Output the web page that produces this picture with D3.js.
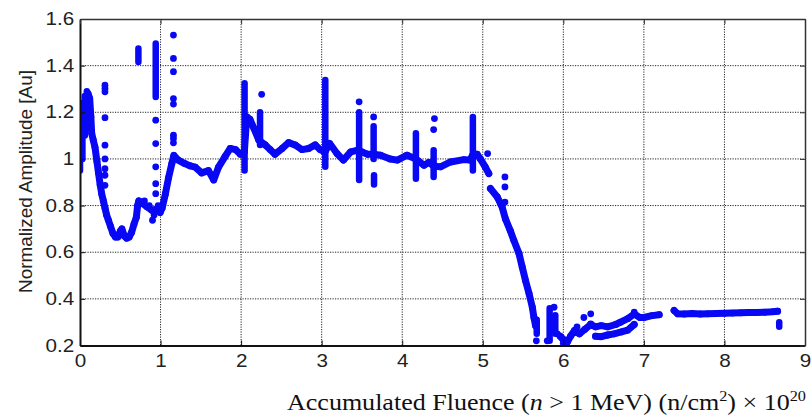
<!DOCTYPE html>
<html>
<head>
<meta charset="utf-8">
<script src="https://cdn.jsdelivr.net/npm/d3@7"></script>
<style>
  body { margin: 0; background: #fff; }
  svg { display: block; }
</style>
</head>
<body>
<div id="chart"></div>
<script>
// tick values
let xTicks = [0, 1, 2, 3, 4, 5, 6, 7, 8, 9];
let yTicks = [0.2, 0.4, 0.6, 0.8, 1.0, 1.2, 1.4, 1.6];

let mainTrace = [[0.10,1.28],[0.12,1.26],[0.135,1.18],[0.145,1.11],[0.165,1.08],[0.186,1.05],[0.21,0.99],[0.23,0.94],[0.25,0.89],[0.27,0.85],[0.29,0.82],[0.31,0.79],[0.33,0.76],[0.35,0.74],[0.38,0.71],[0.41,0.68],[0.44,0.665],[0.47,0.665],[0.5,0.69],[0.52,0.70],[0.55,0.67],[0.58,0.66],[0.61,0.665],[0.64,0.685],[0.67,0.72],[0.7,0.75],[0.715,0.80],[0.73,0.82],[0.77,0.81],[0.83,0.795],[0.89,0.78],[0.95,0.785],[0.995,0.77],[1.02,0.79],[1.06,0.85],[1.1,0.92],[1.14,0.98],[1.165,1.015],[1.22,0.995],[1.3,0.98],[1.37,0.97],[1.43,0.965],[1.51,0.94],[1.595,0.95],[1.66,0.91],[1.72,0.965],[1.8,1.01],[1.865,1.045],[1.93,1.04],[1.99,1.02],[2.04,1.03],[2.07,1.18],[2.11,1.17],[2.16,1.13],[2.22,1.08],[2.3,1.06],[2.36,1.04],[2.42,1.02],[2.51,1.045],[2.59,1.07],[2.67,1.06],[2.755,1.04],[2.84,1.045],[2.92,1.06],[2.98,1.04],[3.04,1.03],[3.1,1.066],[3.19,1.023],[3.27,0.995],[3.36,1.03],[3.44,1.037],[3.5,1.03],[3.57,1.02],[3.645,1.02],[3.73,1.016],[3.85,1.0],[3.94,0.995],[4.06,1.016],[4.17,1.0],[4.27,0.973],[4.33,0.985],[4.39,0.97],[4.475,0.966],[4.6,0.987],[4.765,0.997],[4.84,0.995],[4.88,1.02],[4.93,1.02],[4.97,1.0],[5.03,0.966],[5.075,0.937]];
let dropTrace = [[5.095,0.873],[5.18,0.837],[5.24,0.794],[5.28,0.744],[5.34,0.694],[5.385,0.651],[5.45,0.594],[5.49,0.536],[5.53,0.479],[5.575,0.422],[5.615,0.364],[5.635,0.32],[5.655,0.285]];
let tailTrace = [[5.96,0.24],[6.0,0.225],[6.05,0.215],[6.09,0.24],[6.14,0.265],[6.2,0.25],[6.27,0.27],[6.34,0.29],[6.4,0.28],[6.47,0.285],[6.55,0.28],[6.65,0.29],[6.71,0.30],[6.8,0.315],[6.88,0.335],[6.95,0.32],[7.0,0.32],[7.1,0.328],[7.19,0.332]];
let lowBand = [[6.4,0.24],[6.47,0.238],[6.55,0.245],[6.63,0.25],[6.72,0.258],[6.8,0.266],[6.88,0.29]];
let endTrace = [[7.375,0.35],[7.42,0.336],[7.5,0.335],[7.6,0.337],[7.7,0.335],[7.79,0.336],[7.9,0.337],[8.0,0.338],[8.1,0.339],[8.2,0.34],[8.3,0.341],[8.4,0.342],[8.5,0.343],[8.6,0.345],[8.66,0.347]];

// dense vertical bursts [fluence, low, high]
let spikes = [[0.0,0.95,1.18],[0.03,1.0,1.24],[0.06,1.1,1.27],[0.085,1.15,1.29],[0.725,1.416,1.474],[0.94,1.266,1.495],[2.043,0.95,1.324],[2.235,1.06,1.2],[3.045,0.966,1.338],[3.465,0.91,1.2],[3.645,1.0,1.14],[3.65,0.89,0.93],[4.17,0.915,1.11],[4.39,0.923,1.037],[4.877,0.95,1.18],[5.83,0.22,0.36],[5.9,0.25,0.33],[5.67,0.25,0.31],[8.68,0.28,0.30]];

// single scattered samples
let dots = [[0.31,1.316],[0.31,1.302],[0.31,1.288],[0.31,1.177],[0.31,1.059],[0.31,1.0],[0.31,0.958],[0.31,0.93],[0.31,0.887],[0.94,1.166],[0.94,1.066],[0.94,0.966],[0.94,0.894],[0.94,0.851],[0.9,0.737],[0.8,0.82],[0.86,0.80],[0.92,0.76],[0.97,0.80],[1.16,1.531],[1.16,1.431],[1.16,1.374],[1.16,1.259],[1.16,1.235],[1.16,1.102],[1.16,1.088],[1.16,1.069],[2.255,1.277],[3.465,1.245],[3.645,1.18],[4.4,1.173],[4.39,1.126],[5.06,1.023],[5.275,0.923],[5.275,0.88],[5.275,0.815],[5.665,0.22],[5.8,0.22],[5.885,0.364],[5.925,0.25],[5.99,0.229],[6.0,0.21],[6.17,0.28],[6.255,0.32],[6.34,0.336],[6.34,0.293],[6.88,0.343]];

let w = 811, h = 416;
let margin = {left: 80, right: 6, top: 19, bottom: 70.5};
let dotColor = "#0808f4";

let svg = d3.select("#chart")
  .append("svg")
  .attr("width", w)
  .attr("height", h)
  .attr("viewBox", "0 0 " + w + " " + h);

let x = d3.scaleLinear().domain([0, 9]).range([margin.left, w - margin.right]);
let y = d3.scaleLinear().domain([0.2, 1.6]).range([h - margin.bottom, margin.top]);

// grid
let grid = svg.append("g")
  .attr("stroke", "#222")
  .attr("stroke-width", 1)
  .attr("stroke-dasharray", "1.2,1.3");
grid.selectAll(".vx").data(xTicks.slice(1, -1)).join("line")
  .attr("x1", d => x(d)).attr("x2", d => x(d))
  .attr("y1", y(1.6)).attr("y2", y(0.2));
grid.selectAll(".hy").data(yTicks.slice(1, -1)).join("line")
  .attr("x1", x(0)).attr("x2", x(9))
  .attr("y1", d => y(d)).attr("y2", d => y(d));

// data
svg.append("clipPath").attr("id", "plot-clip")
  .append("rect")
  .attr("x", x(0)).attr("y", y(1.6))
  .attr("width", x(9) - x(0)).attr("height", y(0.2) - y(1.6));

let dataGrp = svg.append("g").attr("clip-path", "url(#plot-clip)");
let line = d3.line().x(d => x(d[0])).y(d => y(d[1]));

let traces = [mainTrace, dropTrace, tailTrace, lowBand, endTrace];
dataGrp.selectAll("path.trace").data(traces).join("path")
  .attr("class", "trace")
  .attr("d", line)
  .attr("fill", "none")
  .attr("stroke", dotColor)
  .attr("stroke-width", 7)
  .attr("stroke-linecap", "round")
  .attr("stroke-linejoin", "round");

dataGrp.selectAll("line.spike").data(spikes).join("line")
  .attr("class", "spike")
  .attr("x1", d => x(d[0])).attr("x2", d => x(d[0]))
  .attr("y1", d => y(d[1])).attr("y2", d => y(d[2]))
  .attr("stroke", dotColor)
  .attr("stroke-width", 6.5)
  .attr("stroke-linecap", "round");

let allPts = traces.flat().concat(dots);
dataGrp.selectAll("circle").data(allPts).join("circle")
  .attr("cx", d => x(d[0]))
  .attr("cy", d => y(d[1]))
  .attr("r", 3.4)
  .attr("fill", dotColor);

// axes
let fmt = d => String(+d.toFixed(1));
let tickFont = "'Liberation Sans', Arial, sans-serif";

let xAxis = svg.append("g")
  .attr("transform", "translate(0," + y(0.2) + ")")
  .call(d3.axisBottom(x).tickValues(xTicks).tickFormat(d => d).tickSizeInner(-5).tickSizeOuter(0).tickPadding(9.5));
let yAxis = svg.append("g")
  .attr("transform", "translate(" + x(0) + ",0)")
  .call(d3.axisLeft(y).tickValues(yTicks).tickFormat(fmt).tickSizeInner(-5).tickSizeOuter(0).tickPadding(5));

[xAxis, yAxis].forEach(a => {
  a.select(".domain").attr("stroke", "#111").attr("stroke-width", 2);
  a.selectAll(".tick line").attr("stroke", "#111");
  a.selectAll("text")
    .attr("fill", "#222")
    .style("font-family", tickFont)
    .style("font-size", "17.5px")
    .attr("transform", "scale(1.18,1)");
});

// box top and right
let topAxis = svg.append("g")
  .attr("transform", "translate(0," + y(1.6) + ")")
  .call(d3.axisTop(x).tickValues(xTicks).tickFormat("").tickSizeInner(-5).tickSizeOuter(0));
let rightAxis = svg.append("g")
  .attr("transform", "translate(" + x(9) + ",0)")
  .call(d3.axisRight(y).tickValues(yTicks).tickFormat("").tickSizeInner(-5).tickSizeOuter(0));
[topAxis, rightAxis].forEach(a => {
  a.select(".domain").attr("stroke", "#333").attr("stroke-width", 1.5);
  a.selectAll(".tick line").attr("stroke", "#333");
});

// labels
svg.append("text")
  .attr("transform", "translate(31.5,181.5)rotate(-90)")
  .attr("text-anchor", "middle")
  .attr("textLength", 223)
  .attr("lengthAdjust", "spacingAndGlyphs")
  .style("font-family", tickFont)
  .style("font-size", "17.5px")
  .attr("fill", "#222")
  .text("Normalized Amplitude [Au]");

let xl = svg.append("text")
  .attr("x", 287)
  .attr("y", 410)
  .attr("textLength", 519)
  .attr("lengthAdjust", "spacingAndGlyphs")
  .style("font-family", "'Liberation Serif', 'DejaVu Serif', serif")
  .style("font-size", "24px")
  .attr("fill", "#111");
xl.append("tspan").text("Accumulated Fluence (");
xl.append("tspan").style("font-style", "italic").text("n");
xl.append("tspan").text(" > 1 MeV) (n/cm");
xl.append("tspan").attr("dy", -9).style("font-size", "15px").text("2");
xl.append("tspan").attr("dy", 9).text(") \u00d7 10");
xl.append("tspan").attr("dy", -9).style("font-size", "15px").text("20");
</script>
</body>
</html>
